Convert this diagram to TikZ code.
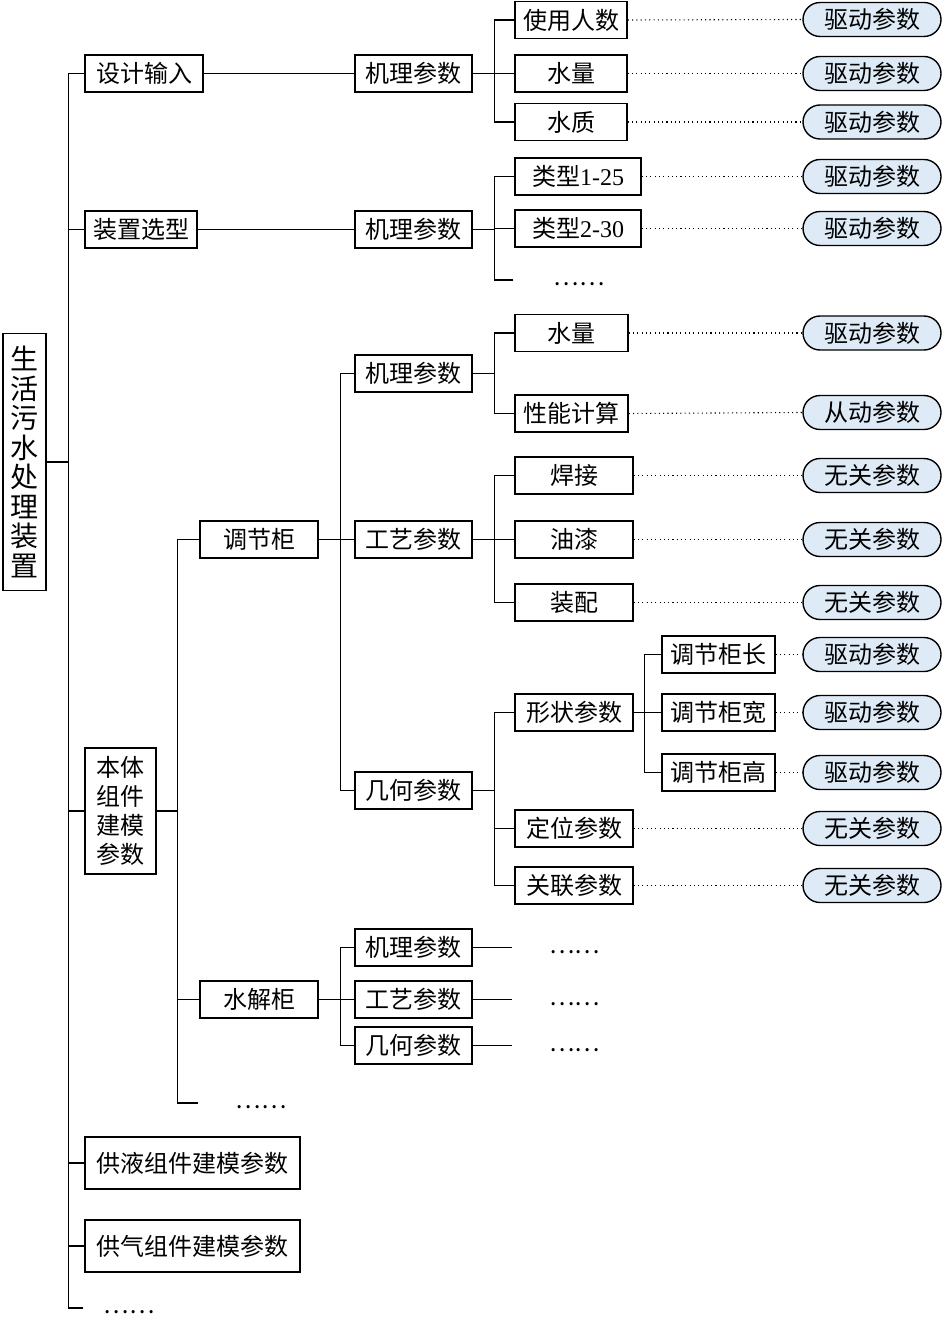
\documentclass[tikz,border=0pt]{standalone}
\usepackage{fontspec}
\setmainfont{Liberation Serif}
\newfontfamily\cjk{Noto Sans CJK SC}
\definecolor{tagblue}{HTML}{DEEBF7}
\tikzset{
  box/.style={draw, line width=1.4pt, minimum height=37pt, inner sep=0pt,
    font=\cjk\fontsize{24}{28}\selectfont},
  tag/.style={draw, line width=1.4pt, fill=tagblue, rounded corners=17pt,
    minimum width=138pt, minimum height=34pt, inner sep=0pt,
    font=\cjk\fontsize{24}{28}\selectfont},
  etc/.style={inner ysep=0pt, text height=11pt, text depth=0pt,
    font=\cjk\fontsize{24}{28}\selectfont},
  link/.style={line width=1.5pt},
  hint/.style={line width=1.1pt, dash pattern=on 1.1pt off 3.2pt},
}
\begin{document}
\begin{tikzpicture}[x=1pt, y=-1pt]
\useasboundingbox (0,0) rectangle (945,1329);

% root
\node[box, minimum width=43pt, minimum height=257pt, align=center,
  font=\cjk\fontsize{28}{29.5}\selectfont] (root) at (24.5,462)
  {生\\活\\污\\水\\处\\理\\装\\置};

% first level
\node[box, minimum width=118pt] (input) at (144,73.5) {设计输入};
\node[box, minimum width=112pt] (select) at (141,229.5) {装置选型};
\node[box, minimum width=71pt, minimum height=126pt, align=center,
  font=\cjk\fontsize{24}{29}\selectfont] (body) at (120.5,811) {本体\\组件\\建模\\参数};
\node[box, minimum width=215pt, minimum height=52pt] (liquid) at (192.5,1163) {供液组件建模参数};
\node[box, minimum width=215pt, minimum height=52pt] (gas) at (192.5,1246) {供气组件建模参数};
\node[etc, inner xsep=20pt] (etc0) at (129,1308) {……};

\coordinate (k0) at ([xshift=22pt]root.east);
\draw[link] (root.east) -- (k0);
\foreach \c in {input,select,body,liquid,gas,etc0}
  \draw[link] (\c.west) -| (k0);

% design input
\node[box, minimum width=117pt] (mech1) at (413.5,73.5) {机理参数};
\draw[link] (input.east) -- (mech1.west);
\node[box, minimum width=112pt] (users) at (571,20) {使用人数};
\node[box, minimum width=112pt] (flow1) at (571,73.5) {水量};
\node[box, minimum width=112pt] (quality) at (571,122) {水质};
\coordinate (k1) at ([xshift=22pt]mech1.east);
\draw[link] (mech1.east) -- (k1);
\foreach \c in {users,flow1,quality}
  \draw[link] (\c.west) -| (k1);

% type selection
\node[box, minimum width=117pt] (mech2) at (413.5,229.5) {机理参数};
\draw[link] (select.east) -- (mech2.west);
\node[box, minimum width=126pt] (typeA) at (578,176.5) {类型{\rmfamily 1-25}};
\node[box, minimum width=126pt] (typeB) at (578,228.5) {类型{\rmfamily 2-30}};
\node[etc, inner xsep=40pt] (etc1) at (579,280) {……};
\coordinate (k2) at ([xshift=22pt]mech2.east);
\draw[link] (mech2.east) -- (k2);
\foreach \c in {typeA,typeB,etc1}
  \draw[link] (\c.west) -| (k2);

% body components
\node[box, minimum width=118pt] (cab) at (259,539.5) {调节柜};
\node[box, minimum width=118pt] (hyd) at (259,999.5) {水解柜};
\node[etc, inner xsep=37pt] (etc2) at (261,1103) {……};
\coordinate (k3) at ([xshift=21pt]body.east);
\draw[link] (body.east) -- (k3);
\foreach \c in {cab,hyd,etc2}
  \draw[link] (\c.west) -| (k3);

% regulating cabinet
\node[box, minimum width=117pt] (mech3) at (413.5,373.5) {机理参数};
\node[box, minimum width=117pt] (proc3) at (413.5,539.5) {工艺参数};
\node[box, minimum width=117pt] (geo3) at (413.5,790.5) {几何参数};
\coordinate (k4) at ([xshift=22pt]cab.east);
\draw[link] (cab.east) -- (k4);
\foreach \c in {mech3,proc3,geo3}
  \draw[link] (\c.west) -| (k4);

\node[box, minimum width=113pt] (flow3) at (571.5,333) {水量};
\node[box, minimum width=113pt] (perf) at (571.5,413.5) {性能计算};
\coordinate (k5) at ([xshift=22pt]mech3.east);
\draw[link] (mech3.east) -- (k5);
\foreach \c in {flow3,perf}
  \draw[link] (\c.west) -| (k5);

\node[box, minimum width=118pt] (weld) at (574,475.5) {焊接};
\node[box, minimum width=118pt] (paint) at (574,539.5) {油漆};
\node[box, minimum width=118pt] (fit) at (574,602.5) {装配};
\coordinate (k6) at ([xshift=22pt]proc3.east);
\draw[link] (proc3.east) -- (k6);
\foreach \c in {weld,paint,fit}
  \draw[link] (\c.west) -| (k6);

\node[box, minimum width=118pt] (shape) at (574,712.5) {形状参数};
\node[box, minimum width=118pt] (place) at (574,828.5) {定位参数};
\node[box, minimum width=118pt] (assoc) at (574,885.5) {关联参数};
\coordinate (k7) at ([xshift=22pt]geo3.east);
\draw[link] (geo3.east) -- (k7);
\foreach \c in {shape,place,assoc}
  \draw[link] (\c.west) -| (k7);

\node[box, minimum width=113pt] (len) at (718.5,654.5) {调节柜长};
\node[box, minimum width=113pt] (wid) at (718.5,712.5) {调节柜宽};
\node[box, minimum width=113pt] (hei) at (718.5,772.5) {调节柜高};
\coordinate (k8) at ([xshift=11pt]shape.east);
\draw[link] (shape.east) -- (k8);
\foreach \c in {len,wid,hei}
  \draw[link] (\c.west) -| (k8);

% hydrolysis cabinet
\node[box, minimum width=117pt] (mech4) at (413.5,947.5) {机理参数};
\node[box, minimum width=117pt] (proc4) at (413.5,999.5) {工艺参数};
\node[box, minimum width=117pt] (geo4) at (413.5,1045.5) {几何参数};
\coordinate (k9) at ([xshift=22pt]hyd.east);
\draw[link] (hyd.east) -- (k9);
\foreach \c in {mech4,proc4,geo4}
  \draw[link] (\c.west) -| (k9);
\node[etc, inner xsep=37pt] (etc3) at (574.5,947.5) {……};
\node[etc, inner xsep=37pt] (etc4) at (574.5,999.5) {……};
\node[etc, inner xsep=37pt] (etc5) at (574.5,1045.5) {……};
\draw[link] (mech4.east) -- (etc3.west);
\draw[link] (proc4.east) -- (etc4.west);
\draw[link] (geo4.east) -- (etc5.west);

% parameter tags
\foreach \c/\y/\t in {users/19.5/驱动参数, flow1/73.5/驱动参数, quality/122/驱动参数,
    typeA/176.5/驱动参数, typeB/228.5/驱动参数, flow3/333/驱动参数,
    perf/412.5/从动参数, weld/475.5/无关参数, paint/539.5/无关参数,
    fit/602.5/无关参数, len/654.5/驱动参数, wid/712.5/驱动参数,
    hei/772.5/驱动参数, place/828.5/无关参数, assoc/885.5/无关参数} {
  \node[tag] (tag-\c) at (872,\y) {\t};
  \draw[hint] (\c.east) -- (tag-\c.west);
}

\end{tikzpicture}
\end{document}
